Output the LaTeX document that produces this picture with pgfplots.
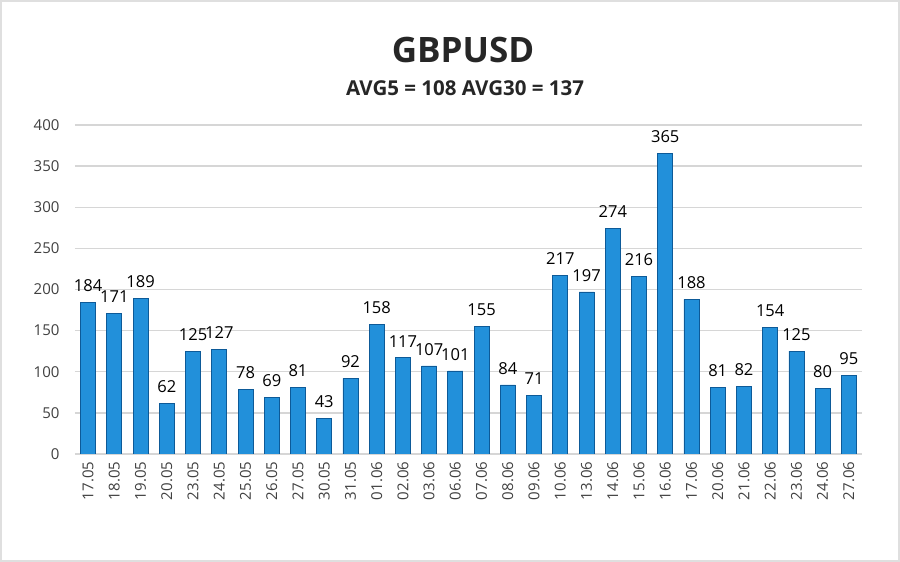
\documentclass[border=0pt]{standalone}
\usepackage{pgfplots}
\pgfplotsset{compat=1.18}
\usepackage{fontspec}
\setmainfont{Open Sans}
\definecolor{barF}{HTML}{2290DA}
\definecolor{barE}{HTML}{0D5A98}
\definecolor{tickc}{HTML}{404040}
\definecolor{gridc}{HTML}{D6D6D6}
\begin{document}
\begin{tikzpicture}
\fill[white] (0pt,0pt) rectangle (900pt,562pt);
\draw[gray!25, line width=2pt] (1pt,1pt) rectangle (899pt,561pt);
\node[font=\bfseries\fontsize{35}{40}\selectfont, text=black!85] at (463pt,512pt) {GBPUSD};
\node[font=\bfseries\fontsize{20.5}{24}\selectfont, text=black!85] at (465pt,474pt) {AVG5 = 108 AVG30 = 137};
\begin{axis}[
  at={(75pt,108pt)}, anchor=south west,
  scale only axis, width=787pt, height=329pt,
  ymin=0, ymax=400, ytick={0,50,...,400},
  xmin=-0.5, xmax=29.5,
  axis line style={draw=none},
  tick style={draw=none},
  ymajorgrids, grid style={gridc, line width=1.3pt},
  xtick=data,
  xticklabels={17.05,18.05,19.05,20.05,23.05,24.05,25.05,26.05,27.05,30.05,31.05,01.06,02.06,03.06,06.06,07.06,08.06,09.06,10.06,13.06,14.06,15.06,16.06,17.06,20.06,21.06,22.06,23.06,24.06,27.06},
  xticklabel style={rotate=90, anchor=east, font=\fontsize{15}{17}\selectfont, text=tickc},
  yticklabel style={font=\fontsize{15}{17}\selectfont, text=tickc, xshift=-12pt},
  /pgf/number format/assume math mode=true,
  ybar, bar width=15pt,
  nodes near coords,
  every node near coord/.append style={font=\fontsize{16.5}{19}\selectfont, text=black, yshift=7pt},
]
\addplot[draw=barE, line width=0.8pt, fill=barF] coordinates {
(0,184) (1,171) (2,189) (3,62) (4,125) (5,127) (6,78) (7,69) (8,81) (9,43)
(10,92) (11,158) (12,117) (13,107) (14,101) (15,155) (16,84) (17,71) (18,217) (19,197)
(20,274) (21,216) (22,365) (23,188) (24,81) (25,82) (26,154) (27,125) (28,80) (29,95)
};
\end{axis}
\end{tikzpicture}
\end{document}
